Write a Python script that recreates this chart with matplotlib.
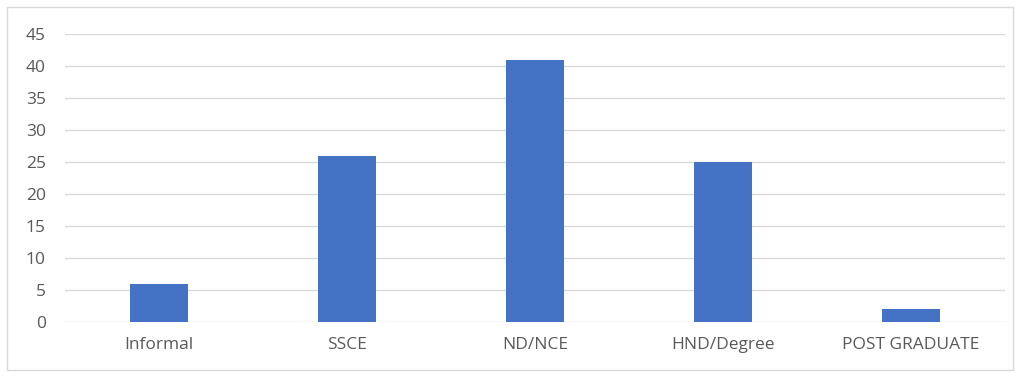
import matplotlib
matplotlib.use("Agg")
import matplotlib.pyplot as plt
from matplotlib.patches import Rectangle
import numpy as np

# данные
categories = ["Informal", "SSCE", "ND/NCE", "HND/Degree", "POST GRADUATE"]
values = [6, 26, 41, 25, 2]
yticks = [0, 5, 10, 15, 20, 25, 30, 35, 40, 45]

plt.rcParams["font.family"] = ["Open Sans", "DejaVu Sans"]

fig = plt.figure(figsize=(10.2, 3.77), dpi=100)
ax = fig.add_axes([0.064, 0.146, 0.921, 0.764])

x = np.arange(len(categories))
ax.bar(x, values, width=0.31, color="#4472C4", zorder=3)

ax.set_xlim(-0.5, len(categories) - 0.5)
ax.set_ylim(0, 45)
ax.set_yticks(yticks)
ax.set_xticks(x)
ax.set_xticklabels(categories)
ax.tick_params(axis="both", length=0, labelsize=12.5, colors="#595959")
ax.tick_params(axis="y", pad=14)
ax.tick_params(axis="x", pad=11)

ax.grid(axis="y", color="#D9D9D9", linewidth=1, zorder=0)
for s in ax.spines.values():
    s.set_visible(False)

# рамка диаграммы
fig.patches.append(Rectangle((7 / 1020, 7 / 377), 1006 / 1020, 363 / 377,
                             transform=fig.transFigure, fill=False,
                             edgecolor="#D9D9D9", linewidth=1))

fig.savefig("out.png", dpi=100)
